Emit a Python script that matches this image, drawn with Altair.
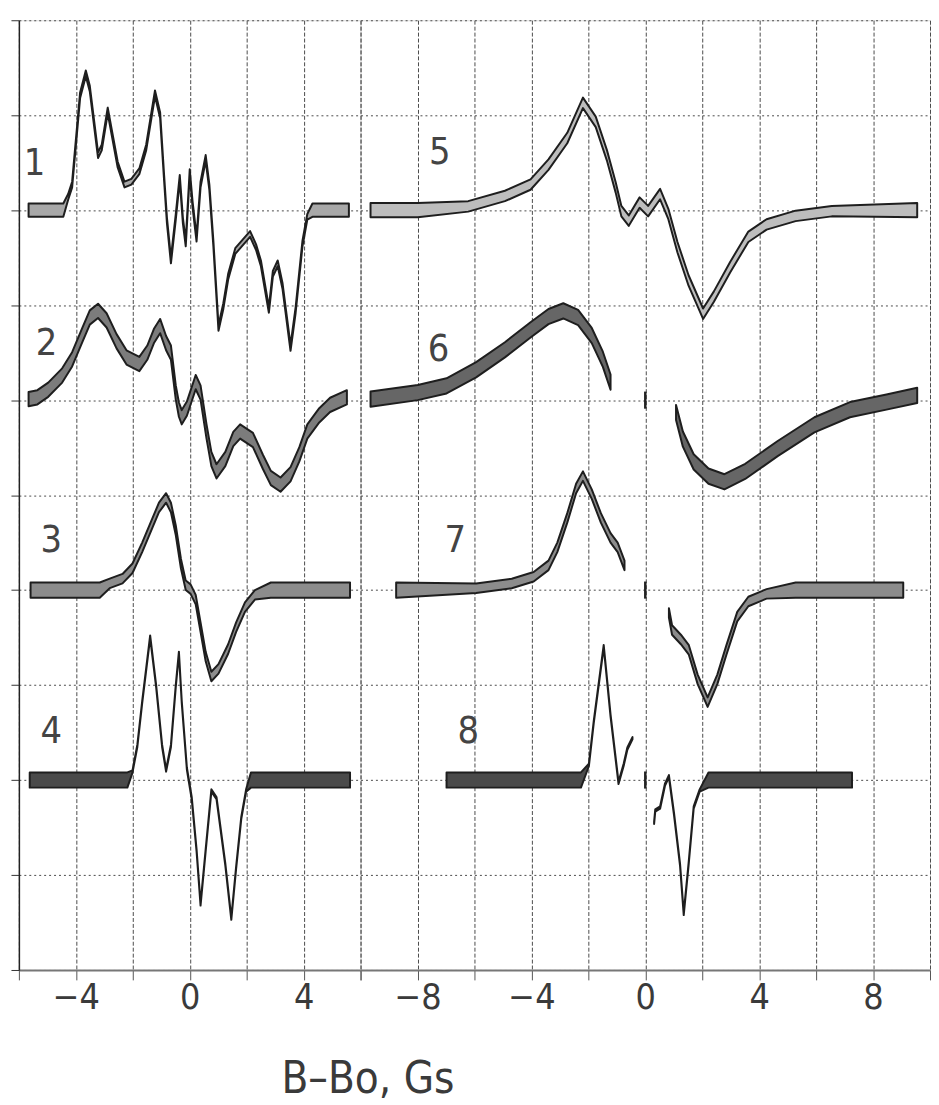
import altair as alt
import pandas as pd

# ---------------- data (B in Gs, amplitude in grid units above each trace baseline) -------------
c1_b = [-5.66, -4.44, -4.27, -4.13, -3.85, -3.65, -3.51, -3.22, -3.09, -2.88, -2.74, -2.53, -2.29,
        -2.05, -1.77, -1.53, -1.22, -1.04, -0.90, -0.80, -0.66, -0.49, -0.35, -0.24, -0.14, 0.0,
        0.10, 0.24, 0.38, 0.56, 0.69, 0.83, 1.01, 1.18, 1.35, 1.60, 2.12, 2.33, 2.50, 2.78, 2.92,
        3.09, 3.26, 3.54, 3.72, 3.96, 4.13, 4.31, 5.59]
c1_a = [0, 0, 0.14, 0.27, 1.21, 1.44, 1.28, 0.58, 0.66, 1.05, 0.82, 0.48, 0.27,
        0.30, 0.41, 0.66, 1.23, 1.00, 0.34, -0.11, -0.53, -0.07, 0.34, -0.11, -0.35, 0.40,
        0.06, -0.30, 0.27, 0.55, 0.24, -0.35, -1.24, -1.01, -0.70, -0.43, -0.25, -0.39, -0.56, -1.05, -0.67,
        -0.56, -0.80, -1.45, -1.05, -0.35, -0.07, 0, 0]

c2_b = [-5.66, -5.35, -4.97, -4.48, -4.13, -3.78, -3.51, -3.22, -2.92, -2.57, -2.22, -1.77, -1.49,
        -1.25, -1.04, -0.83, -0.66, -0.49, -0.38, -0.28, -0.10, 0.21, 0.38, 0.59, 0.76, 0.94, 1.25,
        1.53, 1.77, 2.22, 2.57, 2.85, 3.19, 3.54, 3.85, 4.13, 4.55, 4.93, 5.52]
c2_a = [0.01, 0.03, 0.11, 0.26, 0.43, 0.68, 0.87, 0.94, 0.84, 0.62, 0.45, 0.38, 0.50,
        0.68, 0.78, 0.60, 0.50, 0.08, -0.10, -0.18, -0.09, 0.19, 0.08, -0.33, -0.62, -0.75, -0.62,
        -0.41, -0.33, -0.42, -0.65, -0.82, -0.89, -0.78, -0.57, -0.33, -0.16, -0.05, 0.03]

c3_b = [-5.59, -3.16, -2.81, -2.36, -2.01, -1.67, -1.32, -1.08, -0.83, -0.66, -0.49, -0.31, -0.14,
        0.03, 0.21, 0.38, 0.56, 0.76, 1.01, 1.35, 1.63, 1.94, 2.29, 2.85, 5.63]
c3_a = [0, 0, 0.07, 0.12, 0.23, 0.45, 0.70, 0.87, 0.97, 0.87, 0.63, 0.28, 0.05,
        0.01, -0.10, -0.39, -0.70, -0.91, -0.83, -0.62, -0.39, -0.18, -0.05, 0, 0]

c4_b = [-5.62, -2.19, -2.01, -1.84, -1.67, -1.39, -1.18, -0.97, -0.83, -0.66, -0.49, -0.38, -0.28,
        -0.10, 0.07, 0.24, 0.38, 0.56, 0.76, 0.94, 1.25, 1.46, 1.63, 1.81, 1.98, 2.15, 5.63]
c4_a = [0, 0, 0.09, 0.36, 0.82, 1.51, 0.99, 0.36, 0.10, 0.36, 0.99, 1.34, 0.82,
        0.12, -0.19, -0.74, -1.31, -0.74, -0.11, -0.19, -0.89, -1.46, -0.92, -0.40, -0.11, 0, 0]

c5_b = [-9.65, -7.99, -6.22, -4.93, -4.03, -3.40, -2.74, -2.19, -1.74, -1.35, -1.04, -0.84, -0.58,
        -0.20, 0.10, 0.52, 0.81, 1.13, 1.52, 2.03, 2.41, 2.98, 3.62, 4.26, 5.28, 6.55, 9.55]
c5_a = [0, 0, 0.04, 0.15, 0.27, 0.48, 0.76, 1.13, 0.93, 0.58, 0.24, -0.01, -0.11,
        0.08, -0.01, 0.17, -0.04, -0.39, -0.74, -1.09, -0.91, -0.60, -0.28, -0.15, -0.06, -0.01, 0]

c6_b_low = [-9.65, -7.99, -6.98, -5.94, -4.93, -4.03, -3.40, -2.88, -2.36, -1.88, -1.49, -1.22]
c6_a_low = [0.01, 0.08, 0.15, 0.32, 0.53, 0.74, 0.88, 0.94, 0.87, 0.68, 0.43, 0.19]
c6_b_high = [1.08, 1.32, 1.70, 2.22, 2.78, 3.51, 4.65, 5.94, 7.19, 8.47, 9.55]
c6_a_high = [-0.13, -0.41, -0.65, -0.80, -0.86, -0.75, -0.51, -0.26, -0.10, -0.02, 0.05]

c7_b_low = [-8.75, -5.94, -4.69, -3.92, -3.40, -3.09, -2.74, -2.43, -2.19, -1.88, -1.56, -1.22, -0.97, -0.73]
c7_a_low = [0, 0.02, 0.07, 0.14, 0.26, 0.45, 0.76, 1.07, 1.20, 1.01, 0.76, 0.55, 0.45, 0.26]
c7_b_high = [0.83, 0.94, 1.25, 1.53, 1.84, 2.19, 2.53, 2.85, 3.23, 3.62, 4.26, 5.28, 9.06]
c7_a_high = [-0.24, -0.42, -0.52, -0.63, -0.94, -1.18, -0.94, -0.63, -0.28, -0.12, -0.04, 0, 0]

c8_b_low = [-6.98, -2.26, -1.98, -1.81, -1.46, -1.22, -0.94, -0.76, -0.63, -0.45]
c8_a_low = [0, 0, 0.16, 0.61, 1.41, 0.68, -0.03, 0.16, 0.33, 0.44]
c8_b_high = [0.31, 0.35, 0.52, 0.69, 0.83, 1.01, 1.22, 1.35, 1.52, 1.70, 1.91, 2.22, 7.26]
c8_a_high = [-0.45, -0.32, -0.29, -0.05, 0.04, -0.36, -0.89, -1.41, -0.89, -0.29, -0.11, 0, 0]

# baseline of each trace on the stacked grid (grid units), and panel of each trace
trace_ids = ["1", "2", "3", "4", "5", "6", "7", "8"]
trace_base = [8, 6, 4, 2, 8, 6, 4, 2]
trace_panel = ["left"] * 4 + ["right"] * 4

# field-zero marks (B = 0) drawn on traces 6, 7, 8
marker_traces = ["6", "7", "8"]
marker_b = [0, 0, 0]

# trace numbers and where they are written (B, grid units)
label_text = ["1", "2", "3", "4", "5", "6", "7", "8"]
label_b = [-5.45, -5.03, -4.86, -4.86, -7.22, -7.26, -6.67, -6.22]
label_y = [8.49, 6.59, 4.52, 2.50, 8.60, 6.53, 4.52, 2.50]

x_ticks_left = [-6, -4, -2, 0, 2, 4, 6]
x_ticks_right = [-10, -8, -6, -4, -2, 0, 2, 4, 6, 8, 10]
y_grid = list(range(0, 11))

# ---------------- styles ----------------
FONT = "Liberation Sans Narrow, DejaVu Sans Condensed, DejaVu Sans, sans-serif"
H_FLAT = {"1": 0.07, "2": 0.075, "3": 0.08, "4": 0.08, "5": 0.075, "6": 0.08, "7": 0.08, "8": 0.08}
H_SIG = {"1": 0.03, "2": 0.075, "3": 0.05, "4": 0.012, "5": 0.055, "6": 0.08, "7": 0.05, "8": 0.012}
FILL = {"1": "#a8a8a8", "2": "#7c7c7c", "3": "#8c8c8c", "4": "#4a4a4a",
        "5": "#bdbdbd", "6": "#666666", "7": "#8c8c8c", "8": "#4a4a4a"}
MARKER_HALF = 0.09

segments = {
    "1": [(c1_b, c1_a)],
    "2": [(c2_b, c2_a)],
    "3": [(c3_b, c3_a)],
    "4": [(c4_b, c4_a)],
    "5": [(c5_b, c5_a)],
    "6": [(c6_b_low, c6_a_low), (c6_b_high, c6_a_high)],
    "7": [(c7_b_low, c7_a_low), (c7_b_high, c7_a_high)],
    "8": [(c8_b_low, c8_a_low), (c8_b_high, c8_a_high)],
}
base = dict(zip(trace_ids, trace_base))
panel_of = dict(zip(trace_ids, trace_panel))

rows = []
for tid, segs in segments.items():
    for si, (bs, amps) in enumerate(segs):
        for b, a in zip(bs, amps):
            h = H_FLAT[tid] if a == 0 else H_SIG[tid]
            y = base[tid] + a
            rows.append({"trace": tid, "seg": f"{tid}-{si}", "B": b, "lo": y - h, "hi": y + h,
                         "panel": panel_of[tid]})
traces = pd.DataFrame(rows)

markers = pd.DataFrame({
    "trace": marker_traces, "B": marker_b,
    "lo": [base[t] - MARKER_HALF for t in marker_traces],
    "hi": [base[t] + MARKER_HALF for t in marker_traces],
})
labels = pd.DataFrame({"text": label_text, "B": label_b, "lo": label_y,
                       "panel": [panel_of[t] for t in label_text]})

color_enc = alt.Color("trace:N", scale=alt.Scale(domain=trace_ids, range=[FILL[t] for t in trace_ids]),
                      legend=None)


def x_axis(values, left):
    kw = dict(values=values,
              labelExpr="(datum.value % 4 == 0 && abs(datum.value) <= 8) ? datum.label : ''",
              grid=True, gridDash=[4, 2], gridColor="#4a4a4a", gridWidth=1,
              tickSize=10, tickColor="#555555", domainColor="#777777", domainWidth=2,
              labelFont=FONT, labelFontSize=36, labelColor="#3a3a3a", labelPadding=1,
              labelOverlap=False, labelFlush=False)
    if left:
        kw.update(title="B\u2013Bo, Gs", titleX=352, titleY=124, titleAlign="center",
                  titleBaseline="alphabetic", titleFont=FONT, titleFontSize=44, titleFontWeight="normal",
                  titleColor="#3a3a3a")
    else:
        kw.update(title=None)
    return alt.Axis(**kw)


def y_axis(left):
    if left:
        return alt.Axis(values=y_grid, labels=False, tickSize=8, tickColor="#333333",
                        domain=True, domainColor="#222222", domainWidth=1.5,
                        grid=True, gridDash=[2, 3], gridColor="#4a4a4a", gridWidth=1, title=None)
    return alt.Axis(values=y_grid, labels=False, ticks=False, domain=False,
                    grid=True, gridDash=[2, 3], gridColor="#4a4a4a", gridWidth=1, title=None)


def panel(name, domain, width, ticks):
    left = name == "left"
    xe = alt.X("B:Q", scale=alt.Scale(domain=domain, nice=False, zero=False), axis=x_axis(ticks, left))
    ye = alt.Y("lo:Q", scale=alt.Scale(domain=[0, 10], nice=False, zero=False), axis=y_axis(left))
    band = alt.Chart(traces[traces.panel == name]).mark_area(
        stroke="#1e1e1e", strokeWidth=2, strokeJoin="round", interpolate="linear"
    ).encode(x=xe, y=ye, y2="hi:Q", color=color_enc, detail="seg:N")
    text = alt.Chart(labels[labels.panel == name]).mark_text(
        font=FONT, fontSize=38, color="#444444", align="center", baseline="middle"
    ).encode(x=xe, y=ye, text="text:N")
    layers = [band, text]
    if not left:
        rule = alt.Chart(markers).mark_rule(strokeWidth=2.5, color="#222222").encode(
            x=xe, y=ye, y2="hi:Q")
        layers.append(rule)
    return alt.layer(*layers).properties(width=width, height=959)


left_chart = panel("left", [-6, 6], 345, x_ticks_left)
right_chart = panel("right", [-10, 10], 575, x_ticks_right)

chart = alt.hconcat(left_chart, right_chart, spacing=0, bounds="flush").properties(
    padding={"left": 2, "top": 6, "right": 0, "bottom": 0}
).configure_view(stroke=None).configure(background="white")

chart.save("out.html", embed_options={"renderer": "svg", "actions": False})
